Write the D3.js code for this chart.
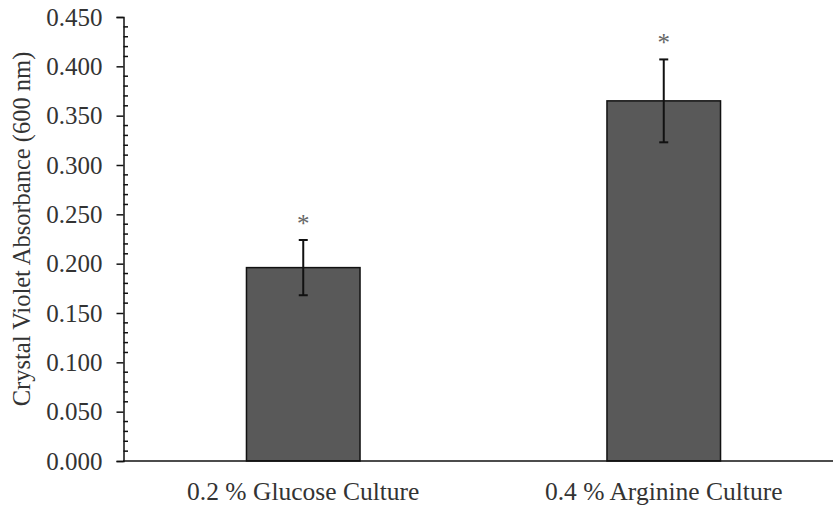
<!DOCTYPE html>
<html>
<head>
<meta charset="utf-8">
<script src="https://cdn.jsdelivr.net/npm/d3@7"></script>
<style>
  body { margin: 0; background: #fff; }
  text { font-family: "Liberation Serif", "Times New Roman", serif; }
</style>
</head>
<body>
<div id="chart"></div>
<script>
var categories = ["0.2 % Glucose Culture", "0.4 % Arginine Culture"];
var values = [0.196, 0.365];
var errors = [0.028, 0.042];
var marks = ["*", "*"];
var yTicks = [0, 0.05, 0.1, 0.15, 0.2, 0.25, 0.3, 0.35, 0.4, 0.45];

var width = 833,
    height = 506;

var svg = d3.select("#chart").append("svg")
    .attr("width", width)
    .attr("height", height);

var y = d3.scaleLinear().domain([0, 0.45]).range([461, 17]);
var x = d3.scaleBand().domain(categories).range([123, 844]).padding(0);
var barW = x.bandwidth() * 0.315;

// bars
svg.selectAll(".bar")
    .data(values)
  .enter().append("rect")
    .attr("class", "bar")
    .attr("x", function(d, i) { return x(categories[i]) + x.bandwidth() / 2 - barW / 2; })
    .attr("y", function(d) { return y(d); })
    .attr("width", barW)
    .attr("height", function(d) { return y(0) - y(d); })
    .attr("fill", "#595959")
    .attr("stroke", "#111")
    .attr("stroke-width", 1.5);

// error bars
var eb = svg.selectAll(".err")
    .data(values)
  .enter().append("g")
    .attr("class", "err")
    .attr("transform", function(d, i) { return "translate(" + (x(categories[i]) + x.bandwidth() / 2) + ",0)"; });

eb.append("line")
    .attr("y1", function(d, i) { return y(d + errors[i]); })
    .attr("y2", function(d, i) { return y(d - errors[i]); })
    .attr("stroke", "#111")
    .attr("stroke-width", 2);

eb.append("line")
    .attr("x1", -4.5).attr("x2", 4.5)
    .attr("y1", function(d, i) { return y(d + errors[i]); })
    .attr("y2", function(d, i) { return y(d + errors[i]); })
    .attr("stroke", "#111")
    .attr("stroke-width", 2);

eb.append("line")
    .attr("x1", -4.5).attr("x2", 4.5)
    .attr("y1", function(d, i) { return y(d - errors[i]); })
    .attr("y2", function(d, i) { return y(d - errors[i]); })
    .attr("stroke", "#111")
    .attr("stroke-width", 2);

eb.append("text")
    .attr("text-anchor", "middle")
    .attr("y", function(d, i) { return y(d + errors[i]) - 21 + 13; })
    .attr("font-size", "25px")
    .attr("fill", "#666")
    .text(function(d, i) { return marks[i]; });

// y axis: major ticks outside, minor ticks inside
var yAxis = svg.append("g")
    .attr("transform", "translate(123.5,0)")
    .call(d3.axisLeft(y).tickValues(yTicks).tickFormat(d3.format(".3f")).tickSize(7).tickPadding(14));

yAxis.select(".domain").attr("stroke", "#111").attr("stroke-width", 1.5);
yAxis.selectAll(".tick line").attr("stroke", "#111").attr("stroke-width", 1.5);
yAxis.selectAll(".tick text")
    .attr("font-size", "25px")
    .attr("fill", "#333")
    .attr("font-family", "Liberation Serif");

var minor = d3.range(0, 46).map(function(k) { return k / 100; })
    .filter(function(v, k) { return k % 5 != 0; });

svg.selectAll(".minor")
    .data(minor)
  .enter().append("line")
    .attr("class", "minor")
    .attr("x1", 123.5).attr("x2", 128)
    .attr("y1", function(d) { return y(d); })
    .attr("y2", function(d) { return y(d); })
    .attr("stroke", "#111")
    .attr("stroke-width", 1.5);

// x axis
svg.append("line")
    .attr("x1", x.range()[0]).attr("x2", x.range()[1])
    .attr("y1", y(0)).attr("y2", y(0))
    .attr("stroke", "#111")
    .attr("stroke-width", 1.5);

svg.selectAll(".xlab")
    .data(categories)
  .enter().append("text")
    .attr("class", "xlab")
    .attr("x", function(d) { return x(d) + x.bandwidth() / 2; })
    .attr("y", 500)
    .attr("text-anchor", "middle")
    .attr("font-size", "25.5px")
    .attr("fill", "#333")
    .text(function(d) { return d; });

svg.append("text")
    .attr("transform", "translate(30,229) rotate(-90)")
    .attr("text-anchor", "middle")
    .attr("font-size", "24.5px")
    .attr("fill", "#333")
    .text("Crystal Violet Absorbance (600 nm)");
</script>
</body>
</html>
